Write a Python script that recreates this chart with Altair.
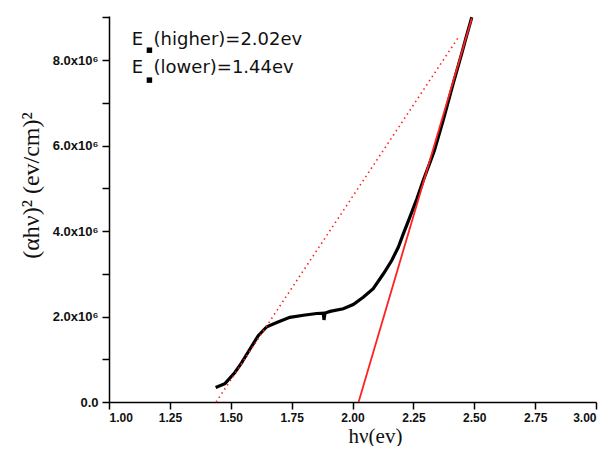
import altair as alt
import pandas as pd

# measured curve (alpha h nu)^2 vs h nu
curve_x = [1.438, 1.476, 1.517, 1.545, 1.579, 1.613, 1.648, 1.689, 1.743, 1.798,
           1.853, 1.880, 1.883, 1.887, 1.908, 1.962, 2.003, 2.044, 2.085, 2.127,
           2.161, 2.188, 2.209, 2.236, 2.264, 2.291, 2.318, 2.336, 2.373, 2.414,
           2.448, 2.469, 2.490]
curve_y = [0.34, 0.43, 0.69, 0.92, 1.24, 1.55, 1.76, 1.86, 1.98, 2.03,
           2.07, 2.08, 1.92, 2.08, 2.12, 2.18, 2.28, 2.45, 2.65, 3.00,
           3.31, 3.62, 3.94, 4.33, 4.75, 5.19, 5.60, 5.88, 6.60, 7.46,
           8.14, 8.58, 9.00]

# fitted tangents
high_x = [2.025, 2.49]
high_y = [0.0, 8.98]
low_x = [1.44, 2.437]
low_y = [0.0, 8.55]

# annotation
note_x = [1.093, 1.093]
note_y = [8.35, 7.69]
note_e = ["E", "E"]
note_rest = ["(higher)=2.02ev", "(lower)=1.44ev"]
note_rest_x = [1.183, 1.183]
sub_x = [1.166, 1.166]
sub_y = [8.23, 7.53]

x_ticks = [1 + 0.125 * i for i in range(17)]
y_ticks = list(range(10))

xs = alt.Scale(domain=[1, 3], nice=False, zero=False)
ys = alt.Scale(domain=[0, 9.03], nice=False, zero=False)

x_axis = alt.Axis(
    values=x_ticks,
    labelExpr="(round(datum.value*8) % 2 == 0) ? format(datum.value, '.2f') : ''",
    title="hν(ev)", titleFont="Liberation Serif", titleFontSize=21,
    titleFontWeight="normal", titleX=266, titleY=40, titleAlign="center",
    titleBaseline="alphabetic", titleColor="#111",
    labelFont="Liberation Sans", labelFontWeight="bold", labelFontSize=12,
    labelPadding=3, labelColor="#111", grid=False, tickSize=7,
)
y_axis = alt.Axis(
    values=y_ticks,
    labelExpr="datum.value == 0 ? '0.0' : (datum.value % 2 == 0 ? format(datum.value, '.1f') + 'x10⁶' : '')",
    title="(αhν)² (ev/cm)²", titleFont="Liberation Serif", titleFontSize=24,
    titleFontWeight="normal", titleAngle=-90, titleX=-71, titleY=169,
    titleAlign="center", titleBaseline="alphabetic", titleColor="#111",
    labelFont="Liberation Sans", labelFontWeight="bold", labelFontSize=13,
    labelPadding=4, labelColor="#111", grid=False, tickSize=7,
)

curve = pd.DataFrame({"x": curve_x, "y": curve_y})
high = pd.DataFrame({"x": high_x, "y": high_y})
low = pd.DataFrame({"x": low_x, "y": low_y})
notes = pd.DataFrame({"x": note_x, "y": note_y, "e": note_e,
                      "rest": note_rest, "rx": note_rest_x})
subs = pd.DataFrame({"x": sub_x, "y": sub_y})

base_curve = alt.Chart(curve).mark_line(color="black", strokeWidth=3.2).encode(
    x=alt.X("x:Q", scale=xs, axis=x_axis),
    y=alt.Y("y:Q", scale=ys, axis=y_axis),
    order=alt.Order("x:Q"),
)
low_line = alt.Chart(low).mark_line(color="#ff2020", strokeWidth=1.6,
                                     strokeDash=[1.5, 3.5]).encode(
    x=alt.X("x:Q", scale=xs), y=alt.Y("y:Q", scale=ys))
high_line = alt.Chart(high).mark_line(color="#ff2020", strokeWidth=1.8).encode(
    x=alt.X("x:Q", scale=xs), y=alt.Y("y:Q", scale=ys))

e_text = alt.Chart(notes).mark_text(align="left", baseline="alphabetic",
                                    font="DejaVu Sans", fontSize=18,
                                    color="#111").encode(
    x=alt.X("x:Q", scale=xs), y=alt.Y("y:Q", scale=ys), text="e:N")
rest_text = alt.Chart(notes).mark_text(align="left", baseline="alphabetic",
                                       font="DejaVu Sans", fontSize=18,
                                       color="#111").encode(
    x=alt.X("rx:Q", scale=xs), y=alt.Y("y:Q", scale=ys), text="rest:N")
sub_marks = alt.Chart(subs).mark_square(size=30, color="black", opacity=1).encode(
    x=alt.X("x:Q", scale=xs), y=alt.Y("y:Q", scale=ys))

chart = alt.layer(base_curve, low_line, high_line, e_text, rest_text, sub_marks).properties(
    width=487, height=386,
    autosize=alt.AutoSizeParams(type="none"),
    padding={"left": 101, "top": 8, "right": 4, "bottom": 44},
    background="white",
).configure_view(stroke=None).configure_axis(
    domainColor="black", domainWidth=1.5, tickColor="black", tickWidth=1.5,
)

chart.save("out.html", embed_options={"renderer": "svg", "actions": False})
